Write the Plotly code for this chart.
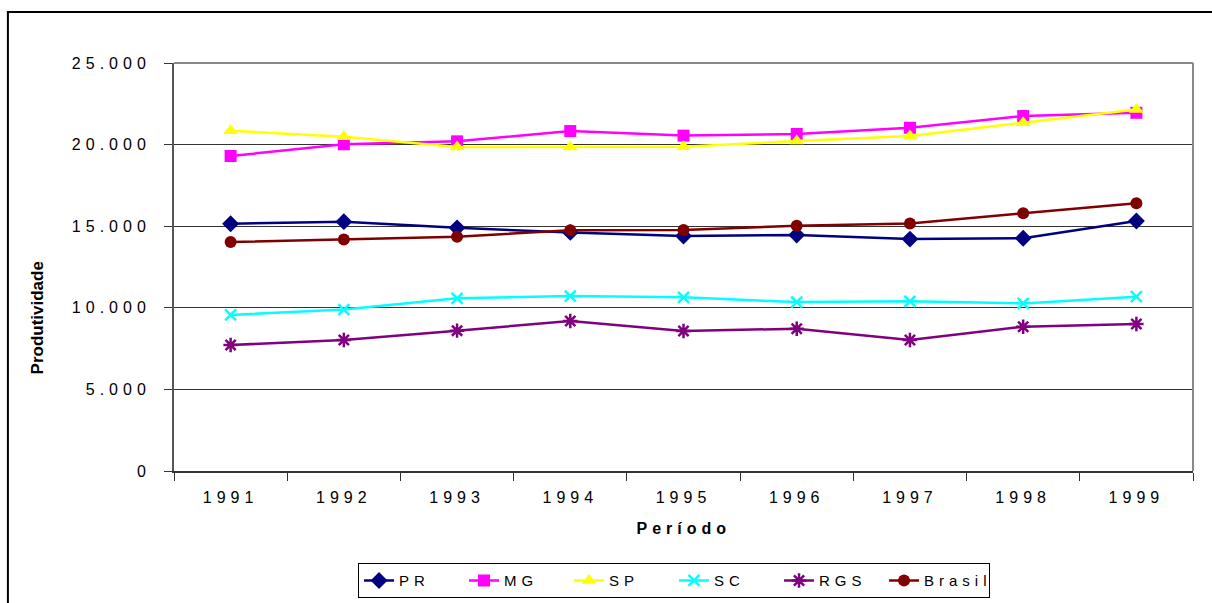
import plotly.graph_objects as go

years = ["1991", "1992", "1993", "1994", "1995", "1996", "1997", "1998", "1999"]
pr = [15150, 15280, 14900, 14620, 14400, 14460, 14210, 14260, 15320]
mg = [19300, 20020, 20200, 20830, 20550, 20650, 21030, 21750, 21950]
sp = [20850, 20480, 19850, 19850, 19870, 20220, 20520, 21340, 22150]
sc = [9560, 9890, 10580, 10720, 10640, 10350, 10400, 10270, 10680]
rgs = [7720, 8030, 8600, 9190, 8580, 8720, 8030, 8840, 9010]
brasil = [14030, 14190, 14360, 14750, 14770, 15030, 15170, 15790, 16400]

y_tickvals = [0, 5000, 10000, 15000, 20000, 25000]
y_ticktext = ["0", "5.000", "10.000", "15.000", "20.000", "25.000"]

series = [
    ("PR", pr, "#000080", "diamond", 13),
    ("MG", mg, "#FF00FF", "square", 12),
    ("SP", sp, "#FFFF00", "triangle-up", 13),
    ("SC", sc, "#00FFFF", "x-thin", 11),
    ("RGS", rgs, "#800080", "asterisk", 12),
    ("Brasil", brasil, "#800000", "circle", 12),
]

fig = go.Figure()
for name, vals, color, sym, size in series:
    marker = dict(symbol=sym, size=size, color=color, line=dict(width=0, color=color))
    if sym in ("x-thin", "asterisk"):
        marker["line"] = dict(width=2.5, color=color)
    fig.add_trace(go.Scatter(
        x=years, y=vals, name=name, mode="lines+markers",
        line=dict(color=color, width=2.5), marker=marker,
    ))

fig.update_layout(
    width=1212, height=603, autosize=False,
    margin=dict(l=174, r=19, t=63, b=132, autoexpand=False),
    paper_bgcolor="white", plot_bgcolor="white",
    font=dict(family="Liberation Sans, Arial, sans-serif", color="black", size=16),
    showlegend=True,
    legend=dict(
        orientation="h", x=0.1806, y=-0.226, xanchor="left", yanchor="top",
        bordercolor="black", borderwidth=1, bgcolor="white",
        font=dict(size=15), itemwidth=30, tracegroupgap=0,
        entrywidth=60, entrywidthmode="pixels",
    ),
    xaxis=dict(
        type="category", range=[-0.5, 8.5], tickson="boundaries",
        ticks="outside", ticklen=8, tickcolor="#333", showline=True,
        linecolor="#333", linewidth=2, showgrid=False, zeroline=False,
        tickfont=dict(size=16), ticklabelstandoff=11,
    ),
    yaxis=dict(
        range=[0, 25000], tickvals=y_tickvals, ticktext=y_ticktext,
        ticks="outside", ticklen=8, tickcolor="#333", showline=True,
        linecolor="#555", linewidth=2, showgrid=True, gridcolor="#333",
        gridwidth=1, zeroline=False, tickfont=dict(size=16),
        ticklabelstandoff=10,
    ),
    shapes=[
        dict(type="line", xref="paper", yref="paper", x0=0, x1=1, y0=1, y1=1,
             line=dict(color="#888", width=2)),
        dict(type="line", xref="paper", yref="paper", x0=1, x1=1, y0=0, y1=1,
             line=dict(color="#888", width=2)),
        dict(type="rect", xref="paper", yref="paper", x0=-0.163, x1=1.2,
             y0=-0.5, y1=1.125, line=dict(color="black", width=2)),
    ],
    annotations=[
        dict(text="<b>Produtividade</b>", xref="paper", yref="paper",
             x=-0.134, y=0.375, textangle=-90, showarrow=False,
             font=dict(size=17), xanchor="center", yanchor="middle"),
        dict(text="<b>Período</b>", xref="paper", yref="paper",
             x=0.5, y=-0.14, showarrow=False, font=dict(size=16),
             xanchor="center", yanchor="middle"),
    ],
)

post = """
document.body.style.margin='0';
document.body.style.padding='0';
var s=document.createElement('style');
s.textContent='.xtick text, .ytick text, .legendtext {letter-spacing:5px;}';
document.head.appendChild(s);
var anns=document.querySelectorAll('.annotation-text');
anns.forEach(function(a){ if(a.textContent.indexOf('Per')===0){ a.style.letterSpacing='5px'; } });
"""

fig.write_html("out.html", post_script=post, config={"displayModeBar": False})
